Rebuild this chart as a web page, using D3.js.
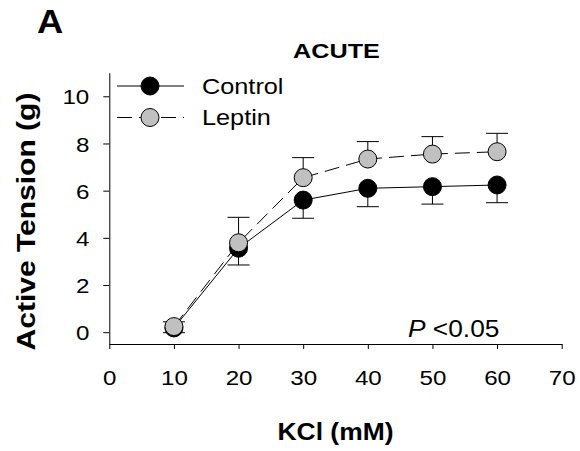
<!DOCTYPE html>
<html><head><meta charset="utf-8">
<script src="https://cdn.jsdelivr.net/npm/d3@7"></script>
<style>body{margin:0;background:#fff}svg{display:block}text{font-family:Arial,"Liberation Sans",sans-serif;fill:#000}</style>
</head><body>
<script>
const kcl = [10, 20, 30, 40, 50, 60];
const controlMean = [0.18, 3.56, 5.60, 6.10, 6.17, 6.24];
const controlSE = [0.2, 0.71, 0.77, 0.78, 0.74, 0.75];
const leptinMean = [0.24, 3.79, 6.55, 7.34, 7.55, 7.65];
const leptinSE = [0.2, 1.08, 0.85, 0.74, 0.74, 0.78];
const xTicks = [0, 10, 20, 30, 40, 50, 60, 70];
const yTicks = [0, 2, 4, 6, 8, 10];
const seriesNames = ["Control", "Leptin"];

const W = 580, H = 451, SX = 1.15;
const svg = d3.select("body").append("svg").attr("width", W).attr("height", H);
const x = d3.scaleLinear().domain([0, 70]).range([109.3, 561.7]);
const y = d3.scaleLinear().domain([-0.5, 11]).range([344, 72.7]);

// axes
const xAxis = svg.append("g").attr("transform", `translate(0,${y(-0.5)})`)
  .call(d3.axisBottom(x).tickValues(xTicks).tickSize(5).tickSizeOuter(0));
xAxis.selectAll("text").attr("y", 0).attr("dy", 0)
  .attr("transform", d => `translate(0,41) scale(${SX},1)`).style("font-size", "21px");
const yAxis = svg.append("g").attr("transform", `translate(${x(0)},0)`)
  .call(d3.axisLeft(y).tickValues(yTicks).tickSize(6).tickSizeOuter(0));
yAxis.selectAll("text").attr("x", 0).attr("dy", "0.36em")
  .attr("transform", `translate(-20,0) scale(${SX},1)`).style("font-size", "21px");
svg.selectAll(".domain, .tick line").attr("stroke", "#000").attr("stroke-width", 1);

// series
const series = [
  {name: seriesNames[0], mean: controlMean, se: controlSE, fill: "#000", dash: null, dir: 1},
  {name: seriesNames[1], mean: leptinMean, se: leptinSE, fill: "#c0c0c0", dash: "15,7", dir: -1}
];
const line = d3.line().x(d => x(d[0])).y(d => y(d[1]));
series.forEach(s => {
  const pts = kcl.map((k, i) => [k, s.mean[i]]);
  svg.append("path").attr("d", line(pts)).attr("fill", "none").attr("stroke", "#000")
    .attr("stroke-width", 1).attr("stroke-dasharray", s.dash);
});
series.forEach(s => {
  const g = svg.append("g");
  kcl.forEach((k, i) => {
    const yEnd = s.mean[i] - s.dir * s.se[i];
    g.append("line").attr("x1", x(k)).attr("x2", x(k)).attr("y1", y(s.mean[i])).attr("y2", y(yEnd))
      .attr("stroke", "#000");
    g.append("line").attr("x1", x(k) - 11).attr("x2", x(k) + 11).attr("y1", y(yEnd)).attr("y2", y(yEnd))
      .attr("stroke", "#000");
  });
  g.selectAll("circle").data(kcl).join("circle")
    .attr("cx", d => x(d)).attr("cy", (d, i) => y(s.mean[i])).attr("r", 9)
    .attr("fill", s.fill).attr("stroke", "#000").attr("stroke-width", 1);
});

// legend
const legY = [86, 117.5];
series.forEach((s, i) => {
  svg.append("line").attr("x1", 117).attr("x2", 184).attr("y1", legY[i]).attr("y2", legY[i])
    .attr("stroke", "#000").attr("stroke-dasharray", s.dash);
  svg.append("circle").attr("cx", 150).attr("cy", legY[i]).attr("r", 9)
    .attr("fill", s.fill).attr("stroke", "#000");
  svg.append("text").attr("transform", `translate(202,${legY[i] + 7.8}) scale(${SX},1)`)
    .style("font-size", "22px").text(s.name);
});

// titles and labels
svg.append("text").attr("transform", `translate(37,33) scale(1.1,1)`)
  .style("font-size", "33px").style("font-weight", "bold").text("A");
svg.append("text").attr("transform", `translate(336.5,58) scale(1.2,1)`).attr("text-anchor", "middle")
  .style("font-size", "21px").style("font-weight", "bold").text("ACUTE");
svg.append("text").attr("transform", `translate(335.5,440) scale(${SX},1)`).attr("text-anchor", "middle")
  .style("font-size", "23px").style("font-weight", "bold").text("KCl (mM)");
svg.append("text").attr("transform", `translate(35,221.5) rotate(-90) scale(1.2,1)`).attr("text-anchor", "middle")
  .style("font-size", "25px").style("font-weight", "bold").text("Active Tension (g)");
const p = svg.append("text").attr("transform", `translate(408,337) scale(1.12,1)`).style("font-size", "23.5px");
p.append("tspan").style("font-style", "italic").text("P");
p.append("tspan").text(" <0.05");
</script>
</body></html>
